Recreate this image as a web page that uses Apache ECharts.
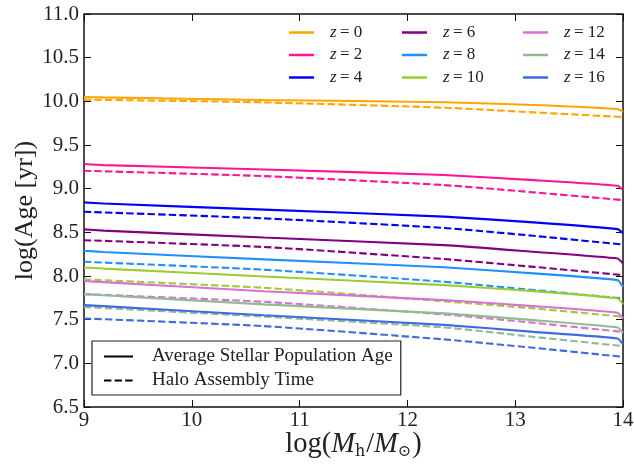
<!DOCTYPE html>
<html>
<head>
<meta charset="utf-8">
<script src="https://cdn.jsdelivr.net/npm/echarts@6/dist/echarts.min.js"></script>
<style>html,body{margin:0;padding:0;background:#fff}#c{width:634px;height:464px}</style>
</head>
<body>
<div id="c"></div>
<script>
// log(M_h/M_sun) sample positions
const massStellar = [9.0, 9.18, 10.67, 12.34, 13.17, 13.95, 14.0];
const massHalo = [9.0, 10.67, 12.34, 13.17, 14.0];

// redshift labels
const redshifts = ['0', '2', '4', '6', '8', '10', '12', '14', '16'];

// Average stellar population age, log(yr)
const stellarZ0  = [10.05, 10.045, 10.015, 9.99, 9.958, 9.912, 9.88];
const stellarZ2  = [9.282, 9.27, 9.22, 9.156, 9.098, 9.033, 8.984];
const stellarZ4  = [8.843, 8.83, 8.76, 8.68, 8.614, 8.537, 8.49];
const stellarZ6  = [8.534, 8.52, 8.44, 8.354, 8.277, 8.2, 8.144];
const stellarZ8  = [8.289, 8.275, 8.19, 8.1, 8.03, 7.953, 7.876];
const stellarZ10 = [8.098, 8.085, 7.995, 7.896, 7.827, 7.743, 7.678];
const stellarZ12 = [7.942, 7.93, 7.825, 7.724, 7.655, 7.579, 7.514];
const stellarZ14 = [7.793, 7.78, 7.675, 7.572, 7.495, 7.411, 7.35];
const stellarZ16 = [7.667, 7.655, 7.55, 7.44, 7.36, 7.285, 7.22];

// Halo assembly time, log(yr)
const haloZ0  = [10.02, 9.988, 9.927, 9.874, 9.82];
const haloZ2  = [9.205, 9.144, 9.041, 8.958, 8.869];
const haloZ4  = [8.736, 8.66, 8.55, 8.46, 8.36];
const haloZ6  = [8.41, 8.332, 8.194, 8.105, 8.01];
const haloZ8  = [8.163, 8.072, 7.934, 7.84, 7.743];
const haloZ10 = [7.961, 7.865, 7.71, 7.629, 7.533];
const haloZ12 = [7.793, 7.705, 7.56, 7.464, 7.36];
const haloZ14 = [7.645, 7.535, 7.411, 7.303, 7.197];
const haloZ16 = [7.514, 7.426, 7.274, 7.178, 7.074];

const stellarAll = [stellarZ0, stellarZ2, stellarZ4, stellarZ6, stellarZ8, stellarZ10, stellarZ12, stellarZ14, stellarZ16];
const haloAll = [haloZ0, haloZ2, haloZ4, haloZ6, haloZ8, haloZ10, haloZ12, haloZ14, haloZ16];

const colors = ['#FFA500', '#FF1493', '#0000FF', '#800080', '#1E90FF', '#9ACD32', '#DA70D6', '#8FBC8F', '#4169E1'];

const xTicks = [9, 14, 1];
const yTicks = [6.5, 11.0, 0.5];

const FONT = 'Liberation Serif';
const zip = (xs, ys) => xs.map((x, i) => [x, ys[i]]);
const zName = z => 'z = ' + z;

const series = [];
redshifts.forEach((z, i) => {
  series.push({
    name: zName(z), type: 'line', symbol: 'none', silent: true,
    smooth: 0.15,
    data: zip(massStellar, stellarAll[i]),
    lineStyle: {color: colors[i], width: 2.1}, itemStyle: {color: colors[i]}, z: 3
  });
  series.push({
    name: zName(z), type: 'line', symbol: 'none', silent: true,
    smooth: 0.2,
    data: zip(massHalo, haloAll[i]),
    lineStyle: {color: colors[i], width: 2.1, type: [7.4, 3.2]}, itemStyle: {color: colors[i]}, z: 3
  });
});
series.push({name: 'Average Stellar Population Age', type: 'line', symbol: 'none', data: [],
  lineStyle: {color: '#000', width: 2.2}, itemStyle: {color: '#000'}});
series.push({name: 'Halo Assembly Time', type: 'line', symbol: 'none', data: [],
  lineStyle: {color: '#000', width: 2.2, type: [7.4, 3.2]}, itemStyle: {color: '#000'}});

const zRich = {
  i: {fontFamily: FONT, fontStyle: 'italic', fontSize: 17, color: '#222'},
  n: {fontFamily: FONT, fontSize: 17, color: '#222'}
};
const zFormatter = name => '{i|z} {n|' + name.slice(2) + '}';
const legendCols = [0, 1, 2].map(c => ({
  orient: 'vertical', left: [289, 402, 523][c], top: 24,
  data: redshifts.slice(c * 3, c * 3 + 3).map(zName),
  icon: 'rect', itemWidth: 25, itemHeight: 2.5, itemGap: 5.5,
  selectedMode: false, padding: 0,
  formatter: zFormatter,
  textStyle: {rich: zRich, padding: [0, 0, 0, 11], lineHeight: 17}
}));

const option = {
  animation: false,
  backgroundColor: '#fff',
  grid: {left: 84, right: 11, top: 14, bottom: 57, outerBoundsMode: 'none', containLabel: false,
    show: true, borderColor: '#111', borderWidth: 1.5, backgroundColor: 'transparent'},
  xAxis: [{
    type: 'value', min: xTicks[0], max: xTicks[1], interval: xTicks[2],
    axisLine: {show: false}, splitLine: {show: false},
    axisTick: {inside: true, length: 7, lineStyle: {color: '#111', width: 1}},
    axisLabel: {fontFamily: FONT, fontSize: 21, color: '#222', margin: 3},
    name: '{t|log(}{i|M}{s|h}{t|/}{i|M}{s|⊙}{t|)}', nameLocation: 'middle', nameGap: 22,
    nameMoveOverlap: false,
    nameTextStyle: {rich: {
      t: {fontFamily: FONT, fontSize: 28.5, color: '#222'},
      i: {fontFamily: FONT, fontSize: 28.5, fontStyle: 'italic', color: '#222'},
      s: {fontFamily: 'DejaVu Serif', fontSize: 16, color: '#222', padding: [15, 1, 0, 0]}
    }}
  }, {
    type: 'value', position: 'top', min: xTicks[0], max: xTicks[1], interval: xTicks[2],
    axisLine: {show: false}, splitLine: {show: false}, axisLabel: {show: false},
    axisTick: {inside: true, length: 7, lineStyle: {color: '#111', width: 1}}
  }],
  yAxis: [{
    type: 'value', min: yTicks[0], max: yTicks[1], interval: yTicks[2],
    axisLine: {show: false}, splitLine: {show: false},
    axisTick: {inside: true, length: 7, lineStyle: {color: '#111', width: 1}},
    axisLabel: {fontFamily: FONT, fontSize: 21, color: '#222', margin: 5, formatter: v => v.toFixed(1)},
    name: 'log(Age [yr])', nameLocation: 'middle', nameGap: 46,
    nameMoveOverlap: false,
    nameTextStyle: {fontFamily: FONT, fontSize: 26, color: '#222'}
  }, {
    type: 'value', position: 'right', min: yTicks[0], max: yTicks[1], interval: yTicks[2],
    axisLine: {show: false}, splitLine: {show: false}, axisLabel: {show: false},
    axisTick: {inside: true, length: 7, lineStyle: {color: '#111', width: 1}}
  }],
  legend: legendCols.concat([{
    orient: 'vertical', left: 92, top: 341,
    data: ['Average Stellar Population Age', 'Halo Assembly Time'],
    itemWidth: 29, itemHeight: 10, itemGap: 5,
    selectedMode: false,
    itemStyle: {opacity: 0},
    backgroundColor: '#fff', borderColor: '#222', borderWidth: 1.2, borderRadius: 0,
    padding: [6, 8, 5, 11],
    textStyle: {fontFamily: FONT, fontSize: 19, color: '#222', padding: [0, 0, 0, 14], lineHeight: 19}
  }]),
  series: series
};
echarts.init(document.getElementById('c')).setOption(option);
</script>
</body>
</html>
